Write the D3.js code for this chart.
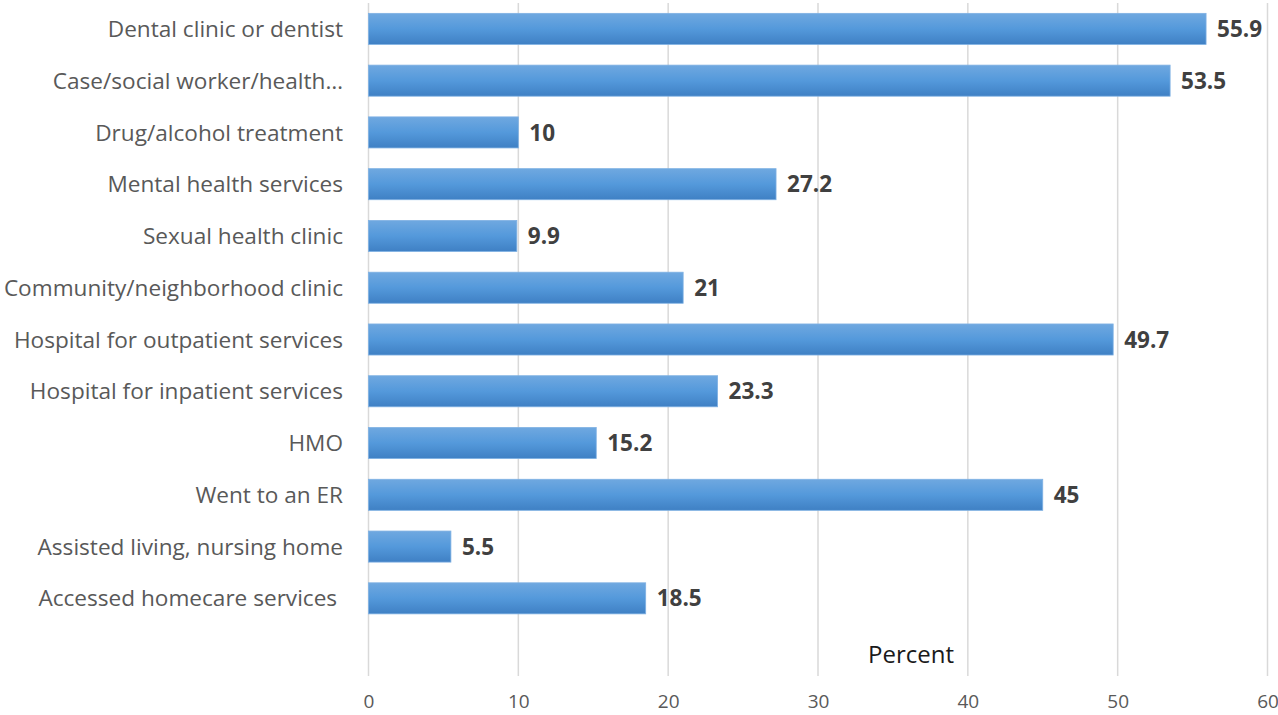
<!DOCTYPE html>
<html><head><meta charset="utf-8">
<script src="https://cdn.jsdelivr.net/npm/d3@7"></script>
<style>body{margin:0;background:#fff;} svg{display:block;}</style>
</head><body>
<svg id="c" width="1278" height="715"></svg>
<script>
const categories = ["Dental clinic or dentist","Case/social worker/health…","Drug/alcohol treatment","Mental health services","Sexual health clinic","Community/neighborhood clinic","Hospital for outpatient services","Hospital for inpatient services","HMO","Went to an ER","Assisted living, nursing home","Accessed homecare services "];
const values = [55.9,53.5,10,27.2,9.9,21,49.7,23.3,15.2,45,5.5,18.5];
const xTicks = [0,10,20,30,40,50,60];
const axisTitle = "Percent";

(function(){
const svg = d3.select("#c");
const font = "'Open Sans', Lato, sans-serif";
const pLeft = 368.5, pRight = 1267.5, pTop = 3, pBottom = 676;
const step = (pBottom - pTop) / 13;
const x = d3.scaleLinear().domain([0,60]).range([pLeft,pRight]);
const y = d3.scaleBand().domain(categories).range([pTop, pTop + step*categories.length]).paddingInner(0.4).paddingOuter(0.2);

const defs = svg.append("defs");
const g = defs.append("linearGradient").attr("id","bg").attr("x1",0).attr("y1",0).attr("x2",0).attr("y2",1);
g.append("stop").attr("offset","0%").attr("stop-color","#6fa8e0");
g.append("stop").attr("offset","50%").attr("stop-color","#5499db");
g.append("stop").attr("offset","100%").attr("stop-color","#3f80c4");

svg.append("g").selectAll("line").data(xTicks).join("line")
  .attr("x1",d=>x(d)).attr("x2",d=>x(d)).attr("y1",pTop).attr("y2",pBottom)
  .attr("stroke","#d9d9d9").attr("stroke-width",1.5);

svg.append("g").selectAll("rect").data(values).join("rect")
  .attr("x",x(0)).attr("y",(d,i)=>y(categories[i]))
  .attr("width",d=>x(d)-x(0)).attr("height",y.bandwidth())
  .attr("fill","url(#bg)").attr("stroke","#7fb1e3").attr("stroke-width",0.8);

svg.append("g").selectAll("text").data(values).join("text")
  .attr("x",d=>x(d)+11).attr("y",(d,i)=>y(categories[i])+y.bandwidth()/2)
  .attr("dy","0.36em").attr("font-family",font).attr("font-weight","bold")
  .attr("font-size",22.5).attr("fill","#404040").text(d=>d);

svg.append("g").selectAll("text").data(categories).join("text")
  .attr("x",343).attr("y",d=>y(d)+y.bandwidth()/2).attr("dy","0.36em")
  .attr("text-anchor","end").attr("font-family",font).attr("font-size",22.6)
  .style("white-space","pre")
  .attr("fill","#595959").text(d=>d);

const ax = svg.append("g").attr("transform",`translate(0,${pBottom})`)
  .call(d3.axisBottom(x).tickValues(xTicks).tickSize(0).tickPadding(0));
ax.select(".domain").remove();
ax.selectAll("text").attr("dy",null).attr("y",32).attr("font-family",font).attr("font-size",19).attr("fill","#595959");

svg.append("text").attr("x",911).attr("y",663).attr("text-anchor","middle")
  .attr("font-family",font).attr("font-size",24).attr("fill","#1a1a1a").text(axisTitle);
})();
</script>
</body></html>
